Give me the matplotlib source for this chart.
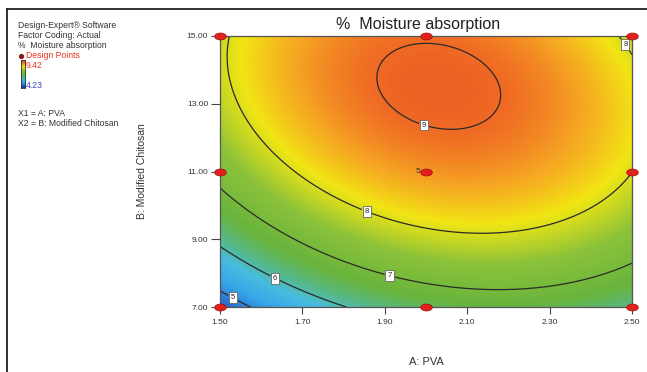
import numpy as np
import matplotlib
matplotlib.use("Agg")
import matplotlib.pyplot as plt
from matplotlib.colors import LinearSegmentedColormap
from matplotlib.lines import Line2D
from matplotlib.path import Path
from matplotlib.transforms import Affine2D

plt.rcParams['font.family'] = ['Liberation Sans', 'DejaVu Sans']

# axis ranges / ticks
pva_ticks = [1.50, 1.70, 1.90, 2.10, 2.30, 2.50]
chitosan_ticks = [7.00, 9.00, 11.00, 13.00, 15.00]

# design points (factorial + axial + centre, centre run 5 times)
design_pva = [1.5, 1.5, 1.5, 2.0, 2.0, 2.0, 2.5, 2.5, 2.5]
design_chitosan = [7.0, 11.0, 15.0, 7.0, 11.0, 15.0, 7.0, 11.0, 15.0]
centre_runs = 5

# response range of the data (legend)
resp_min = 4.23
resp_max = 9.42

# quadratic model, coded factors (estimated from the contours)
coef_0 = 8.69
coef_a = 0.395
coef_b = 1.245
coef_ab = -0.415
coef_aa = -1.08
coef_bb = -0.97

contour_levels = [5, 6, 7, 8, 9]
label_pva = [1.532, 1.636, 1.913, 1.859, 2.000, 2.478]
label_chitosan = [7.30, 7.92, 8.00, 9.92, 12.58, 14.70]

# Design-Expert style colours
cmap_values = [4.23, 4.75, 5.3, 5.8, 6.2, 6.7, 7.5, 8.15, 8.6, 9.0, 9.42]
cmap_colors = ['#1e2f8f', '#2a6fd0', '#38a8e8', '#48bce0', '#58b88a',
               '#69b43c', '#8cc23a', '#f2e614', '#f5a722', '#ef6a24',
               '#e8401f']


def moisture(pva, chit):
    a = (pva - 2.0) / 0.5
    b = (chit - 11.0) / 4.0
    return (coef_0 + coef_a * a + coef_b * b + coef_ab * a * b
            + coef_aa * a ** 2 + coef_bb * b ** 2)


W, H = 647, 372
fig = plt.figure(figsize=(W / 100, H / 100), dpi=100)
ax = fig.add_axes([220 / W, 1 - 307 / H, 412 / W, 271 / H])

cmap = LinearSegmentedColormap.from_list(
    'de', [((v - resp_min) / (resp_max - resp_min), c)
           for v, c in zip(cmap_values, cmap_colors)])

A, B = np.meshgrid(np.linspace(1.5, 2.5, 300), np.linspace(7, 15, 300))
Z = moisture(A, B)
ax.pcolormesh(A, B, Z, cmap=cmap, vmin=resp_min, vmax=resp_max,
              shading='gouraud', rasterized=True)
cs = ax.contour(A, B, Z, levels=contour_levels, colors='#2a2a2a',
                linewidths=0.9)
labels = ax.clabel(cs, fmt='%d', fontsize=5.5, inline=True, inline_spacing=3,
                   manual=list(zip(label_pva, label_chitosan)))
for t in labels:
    t.set_rotation(0)
    t.set_color('#222222')
    t.set_bbox(dict(boxstyle='square,pad=0.25', fc='white', ec='#666666',
                    lw=0.6))

# design point markers: flattened red ellipses
ell = Path(Affine2D().scale(1.0, 0.6).transform(Path.unit_circle().vertices),
           Path.unit_circle().codes)
ax.scatter(design_pva, design_chitosan, marker=ell, s=70, c='#e3201c',
           edgecolors='#9a1010', linewidths=0.5, zorder=5, clip_on=False)
ax.text(2.0 - 0.014, 11.0, str(centre_runs), fontsize=6, color='#333333',
        ha='right', va='center')

ax.set_xlim(1.5, 2.5)
ax.set_ylim(7, 15)
ax.set_xticks(pva_ticks)
ax.set_xticklabels([f'{v:.2f}' for v in pva_ticks])
ax.set_yticks(chitosan_ticks)
ax.set_yticklabels([f'{v:.2f}' for v in chitosan_ticks])
ax.tick_params(labelsize=6, length=6.5, width=0.8, color='#444444',
               labelcolor='#333333', pad=2)
ax.tick_params(axis='x', length=5, pad=4)
for s in ax.spines.values():
    s.set_color('#555555')
    s.set_linewidth(0.9)

ax.set_xlabel('A: PVA', fontsize=8, color='#333333', labelpad=22)
ax.set_ylabel('B: Modified Chitosan', fontsize=7.5, color='#333333',
              labelpad=29)
fig.text(418 / W, 1 - 25 / H, '%  Moisture absorption', fontsize=11.5,
         color='#222222', ha='center', va='center')

# legend block at top-left
def ftxt(x, y, s, **kw):
    fig.text(x / W, 1 - y / H, s, fontsize=6.2, va='center', ha='left', **kw)

ftxt(18, 25.5, 'Design-Expert® Software', color='#333333')
ftxt(18, 35.5, 'Factor Coding: Actual', color='#333333')
ftxt(18, 45, '%  Moisture absorption', color='#333333')
fig.add_artist(Line2D([21 / W], [1 - 55.5 / H], marker='o', markersize=2.8,
                      color='#8a1a1a', transform=fig.transFigure))
ftxt(26, 55.5, 'Design Points', color='#e8321e')
ftxt(26, 65, f'{resp_max:.2f}', color='#e8321e')
ftxt(26, 85, f'{resp_min:.2f}', color='#3a48c0')
ftxt(18, 113, 'X1 = A: PVA', color='#333333')
ftxt(18, 124, 'X2 = B: Modified Chitosan', color='#333333')

cax = fig.add_axes([20.5 / W, 1 - 88 / H, 4.5 / W, 28 / H])
cax.imshow(np.linspace(resp_max, resp_min, 64).reshape(-1, 1), aspect='auto',
           cmap=cmap, vmin=resp_min, vmax=resp_max)
cax.set_xticks([])
cax.set_yticks([])
for s in cax.spines.values():
    s.set_color('#333333')
    s.set_linewidth(0.6)

# outer frame (top and left edges only)
fig.add_artist(Line2D([7 / W, 1], [1 - 9 / H, 1 - 9 / H], color='#222222',
                      lw=1.3, transform=fig.transFigure))
fig.add_artist(Line2D([7 / W, 7 / W], [0, 1 - 9 / H], color='#222222',
                      lw=1.3, transform=fig.transFigure))

fig.savefig('out.png', dpi=100)
